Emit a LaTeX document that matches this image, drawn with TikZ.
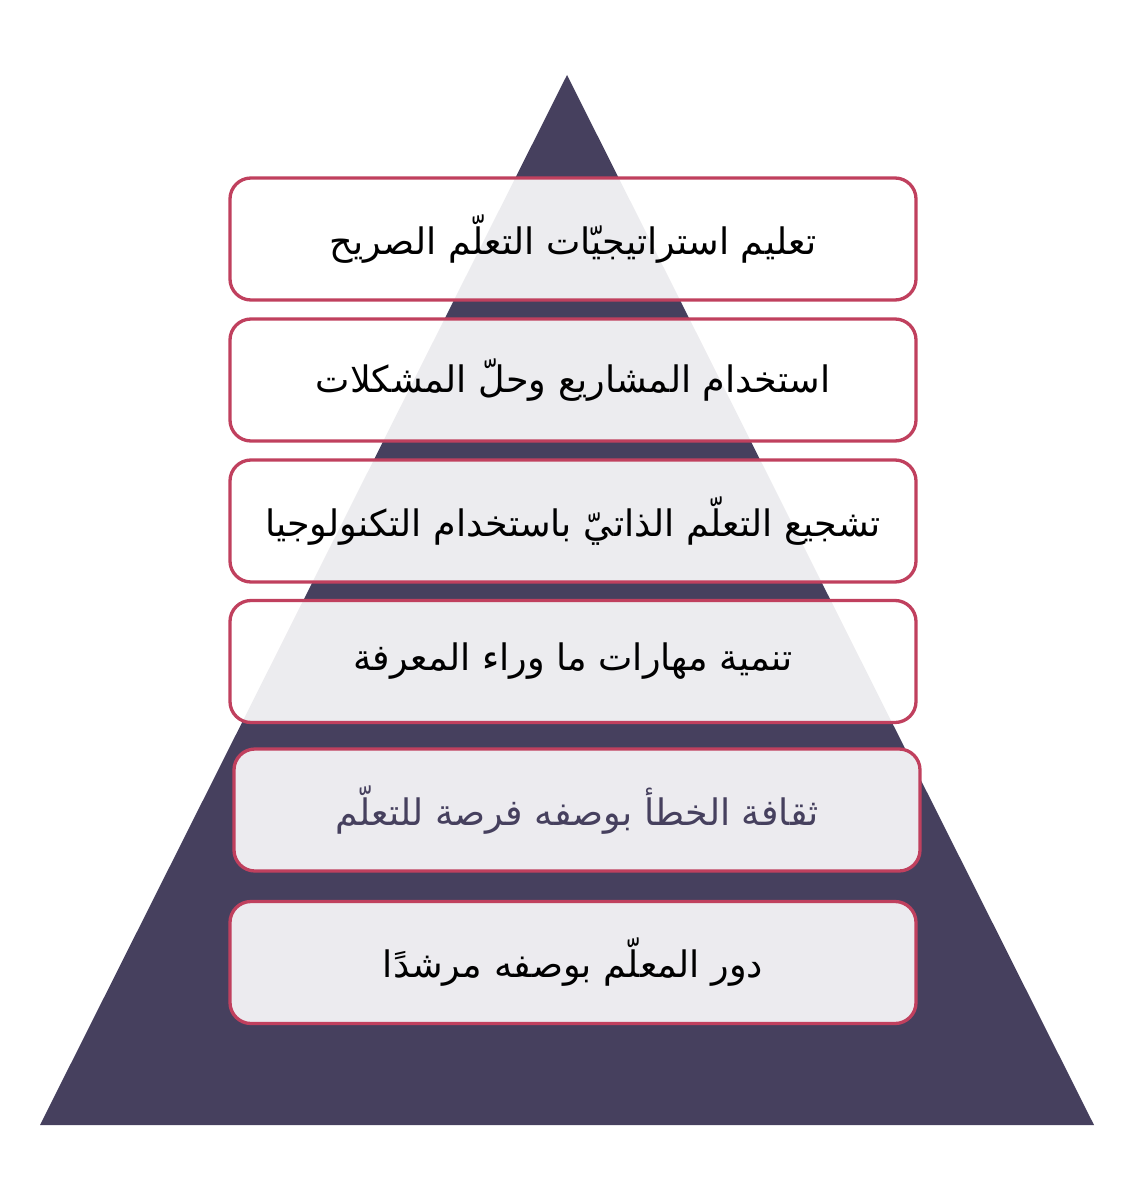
\documentclass[tikz,border=0pt]{standalone}
\usepackage{fontspec}
\newfontfamily\arabicfont[Script=Arabic]{DejaVu Sans}
\TeXXeTstate=1
\definecolor{pyr}{HTML}{46405E}
\definecolor{rose}{HTML}{C0405E}
\definecolor{lite}{HTML}{ECEBEF}
\begin{document}
\begin{tikzpicture}[x=1pt,y=-1pt,
  box/.style={draw=rose, line width=3.3pt, rounded corners=21pt, fill=white, fill opacity=0.9, text opacity=1,
    minimum width=686pt, minimum height=122pt, inner sep=0pt, text=black,
    font=\arabicfont\fontsize{36.5}{42}\selectfont},
  solidbox/.style={box, fill=lite, fill opacity=1}]
\useasboundingbox (0,0) rectangle (1133,1201);
\fill[pyr] (567,75) -- (1094,1125) -- (40,1125) -- cycle;
\node[box] (b1) at (573,239) {\beginR تعليم استراتيجيّات التعلّم الصريح\endR};
\node[box] (b2) at (573,380) {\beginR استخدام المشاريع  وحلّ المشكلات\endR};
\node[box] (b3) at (573,521) {\beginR تشجيع التعلّم الذاتيّ باستخدام التكنولوجيا\endR};
\node[box] (b4) at (573,661.5) {\beginR تنمية مهارات ما وراء المعرفة\endR};
\node[solidbox, text=pyr] (b5) at (577,810) {\beginR ثقافة الخطأ بوصفه فرصة للتعلّم\endR};
\node[solidbox] (b6) at (573,962.5) {\beginR دور المعلّم بوصفه مرشدًا\endR};
\end{tikzpicture}
\end{document}
